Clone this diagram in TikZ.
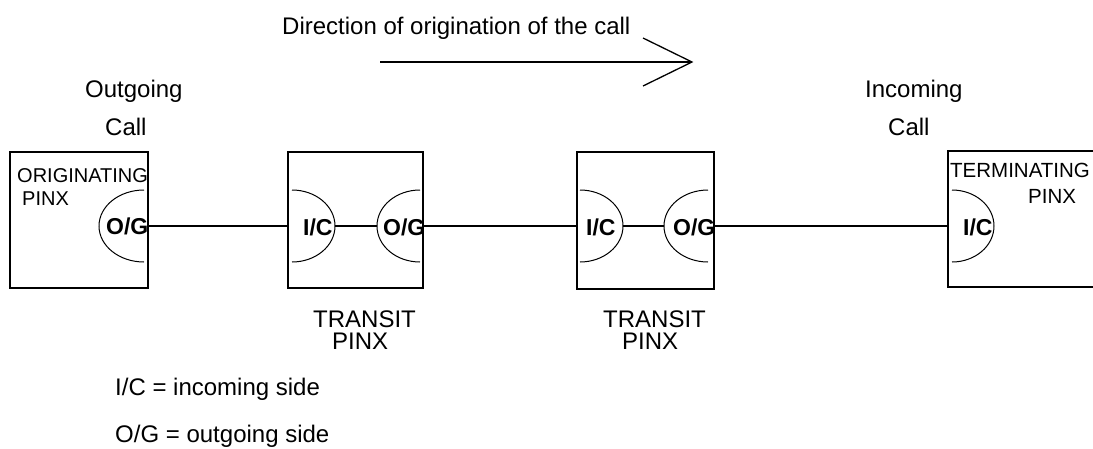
\documentclass[tikz,border=0pt]{standalone}
\usepackage{fontspec}
\setmainfont{Liberation Sans}
\begin{document}
\begin{tikzpicture}[x=1pt,y=-1pt,
  pinxbox/.style={draw,line width=1.4pt,rectangle,inner sep=0pt},
  wire/.style={line width=1.3pt},
  side/.style={line width=1pt},
  bigtxt/.style={inner sep=0pt,anchor=base west,font=\fontsize{24}{28}\selectfont},
  boxtxt/.style={inner sep=0pt,anchor=base west,font=\fontsize{20}{24}\selectfont},
  sidetxt/.style={inner sep=0pt,anchor=base west,font=\fontsize{23}{27}\selectfont\bfseries}]
\useasboundingbox (0,0) rectangle (1093,448);

% direction arrow
\node[bigtxt] (dir) at (282,34) {Direction of origination of the call};
\coordinate (atail) at (380,62);
\coordinate (ahead) at (692,62);
\draw[wire] (atail) -- (ahead);
\draw[wire] (643,38) -- (ahead) -- (643,86);

% call labels
\node[bigtxt] (outg) at (85,97) {Outgoing};
\node[bigtxt] (outc) at (105,135) {Call};
\node[bigtxt] (inc) at (865,97) {Incoming};
\node[bigtxt] (incc) at (888,135) {Call};

% exchanges
\node[pinxbox,minimum width=138pt,minimum height=136pt] (b1) at (79,220) {};
\node[pinxbox,minimum width=135pt,minimum height=136pt] (b2) at (355.5,220) {};
\node[pinxbox,minimum width=137pt,minimum height=137pt] (b3) at (645.5,220.5) {};
\coordinate (b4nw) at (948,151);
\coordinate (b4sw) at (948,287);
\draw[line width=1.4pt] (1093,151) -- (b4nw) -- (b4sw) -- (1093,287);

\node[boxtxt] (b1a) at (17,182) {ORIGINATING};
\node[boxtxt] (b1b) at (22,205) {PINX};
\node[boxtxt,font=\fontsize{20.5}{24}\selectfont] (b4a) at (950,177) {TERMINATING};
\node[boxtxt,font=\fontsize{20.5}{24}\selectfont] (b4b) at (1028,203) {PINX};
\node[bigtxt] (b2a) at (313,327) {TRANSIT};
\node[bigtxt] (b2b) at (332,349) {PINX};
\node[bigtxt] (b3a) at (603,327) {TRANSIT};
\node[bigtxt] (b3b) at (622,349) {PINX};

% incoming (bulging right) and outgoing (bulging left) sides
\draw[side] (144,190) arc[start angle=-90,end angle=-270,x radius=45,y radius=36];
\draw[side] (292,190) arc[start angle=-90,end angle=90,x radius=43,y radius=36];
\draw[side] (420,190) arc[start angle=-90,end angle=-270,x radius=43,y radius=36];
\draw[side] (580,190) arc[start angle=-90,end angle=90,x radius=43,y radius=36];
\draw[side] (708,190) arc[start angle=-90,end angle=-270,x radius=44,y radius=36];
\draw[side] (952,190) arc[start angle=-90,end angle=90,x radius=42,y radius=36];

\coordinate (b2ic) at (335,226);
\coordinate (b2og) at (377,226);
\coordinate (b3ic) at (623,226);
\coordinate (b3og) at (664,226);

% trunks between exchanges
\draw[wire] (b1.east |- b2ic) -- (b2.west |- b2ic);
\draw[wire] (b2ic) -- (b2og);
\draw[wire] (b2.east |- b2ic) -- (b3.west |- b2ic);
\draw[wire] (b3ic) -- (b3og);
\draw[wire] (b3.east |- b3ic) -- (b4nw |- b3ic);

\node[sidetxt] (og1) at (106,234) {O/G};
\node[sidetxt] (ic2) at (303,235) {I/C};
\node[sidetxt] (og2) at (383,235) {O/G};
\node[sidetxt] (ic3) at (586,235) {I/C};
\node[sidetxt] (og3) at (673,235) {O/G};
\node[sidetxt] (ic4) at (963,235) {I/C};

% legend
\node[bigtxt] (leg1) at (115,395) {I/C = incoming side};
\node[bigtxt] (leg2) at (115,442) {O/G = outgoing side};
\end{tikzpicture}
\end{document}
